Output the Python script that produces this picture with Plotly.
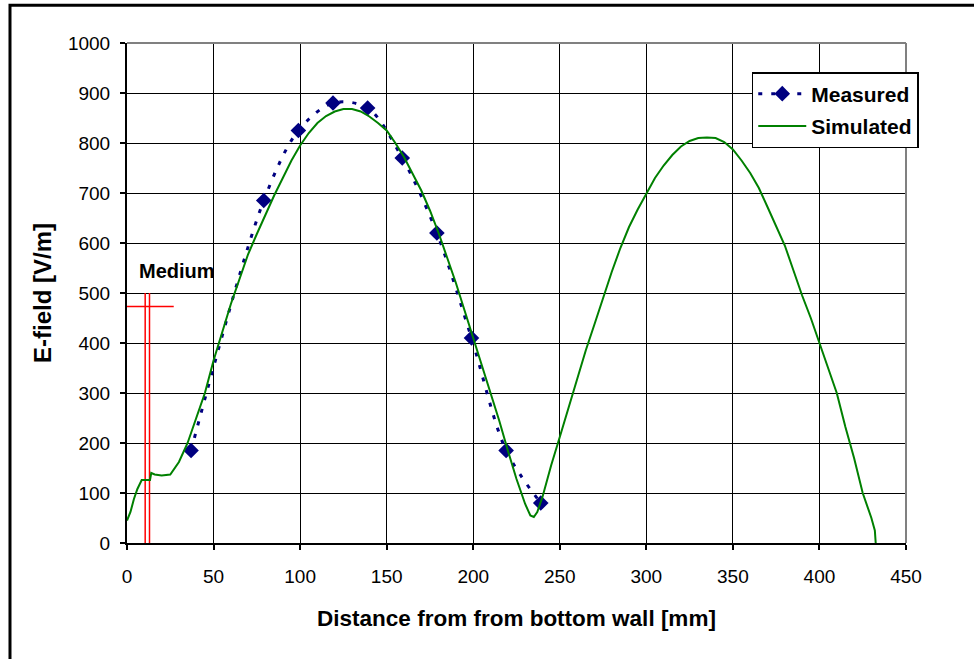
import plotly.graph_objects as go

# Measured data (diamonds, dotted smoothed line)
meas_x = [37, 79, 99, 119, 139, 159, 179, 199, 219, 239]
meas_y = [185, 685, 825, 880, 870, 770, 620, 410, 185, 80]

# Simulated data (green line)
sim_x = [0, 2, 4, 6, 8.5, 10, 12, 13.3, 14, 16, 20, 25, 30, 35, 40, 45, 50, 55, 60, 65,
         70, 75, 80, 85, 90, 95, 100, 105, 110, 115, 120, 125, 130, 135, 140, 145,
         150, 155, 160, 165, 170, 175, 180, 185, 190, 195, 200, 205, 210, 215, 220,
         225, 230, 233, 235, 237, 240, 245, 250, 255, 260, 265, 270, 275, 280, 285,
         290, 295, 300, 305, 310, 315, 320, 325, 330, 335, 340, 345, 350, 355, 360,
         365, 370, 375, 380, 385, 390, 395, 400, 405, 410, 415, 420, 425, 428, 430,
         432, 432.5]
sim_y = [45, 62, 88, 108, 126, 126, 126, 126, 140, 137, 135, 137, 162, 200, 250, 300, 365, 420, 478, 528,
         578, 618, 658, 695, 730, 765, 795, 820, 840, 854, 863, 868, 868, 863, 853, 840,
         825, 800, 772, 740, 705, 665, 620, 570, 520, 465, 410, 355, 300, 245, 185,
         128, 78, 55, 52, 62, 92, 155, 212, 270, 330, 385, 437, 490, 542, 590,
         632, 667, 700, 730, 755, 776, 793, 804, 810, 811, 810, 802, 787, 765, 740,
         710, 672, 635, 595, 545, 495, 450, 400, 350, 300, 232, 170, 100, 70, 50,
         25, 0]

# "Medium" marker lines
medium_vx = [10.5, 13]
medium_top = 500
medium_hx = [0, 27]
medium_hy = 473
medium_label = "Medium"

x_ticks = list(range(0, 451, 50))
y_ticks = list(range(0, 1001, 100))

FONT = "Liberation Sans, Arial, sans-serif"

fig = go.Figure()

# Medium red lines
for vx in medium_vx:
    fig.add_trace(go.Scatter(x=[vx, vx], y=[0, medium_top], mode="lines",
                             line=dict(color="#FF0000", width=1.5),
                             showlegend=False, hoverinfo="skip"))
fig.add_trace(go.Scatter(x=medium_hx, y=[medium_hy, medium_hy], mode="lines",
                         line=dict(color="#FF0000", width=1.5),
                         showlegend=False, hoverinfo="skip"))

fig.add_trace(go.Scatter(x=meas_x, y=meas_y, mode="lines+markers", name="<b>Measured</b>",
                         line=dict(color="#000080", width=3, dash="4px,9px",
                                   shape="spline", smoothing=0.9),
                         marker=dict(symbol="diamond", size=12, color="#000080"),
                         legendgroup="a"))
fig.add_trace(go.Scatter(x=sim_x, y=sim_y, mode="lines", name="<b>Simulated</b>",
                         line=dict(color="#008000", width=2),
                         legendgroup="b"))

fig.add_annotation(x=5.8, y=544, text="<b>" + medium_label + "</b>", showarrow=False,
                   xanchor="left", yanchor="middle",
                   font=dict(family=FONT, size=20, color="black"))

fig.update_xaxes(range=[0, 450], tickvals=x_ticks, showgrid=True, gridcolor="black",
                 gridwidth=1, zeroline=False, showline=True, linecolor="black", linewidth=2,
                 ticks="outside", ticklen=5, tickcolor="black", tickwidth=1.5,
                 ticklabelstandoff=10,
                 tickfont=dict(family=FONT, size=19, color="black"),
                 title=dict(text="<b>Distance from from bottom wall [mm]</b>",
                            font=dict(family=FONT, size=22.5, color="black"), standoff=24))
fig.update_yaxes(range=[0, 1000], tickvals=y_ticks, showgrid=True, gridcolor="black",
                 gridwidth=1, zeroline=False, showline=True, linecolor="black", linewidth=2,
                 ticks="outside", ticklen=5, tickcolor="black", tickwidth=1.5,
                 ticklabelstandoff=6,
                 tickfont=dict(family=FONT, size=19, color="black"),
                 title=dict(text="<b>E-field [V/m]</b>",
                            font=dict(family=FONT, size=24, color="black"), standoff=10))

# Plot area border (gray) on top and right
fig.add_shape(type="line", xref="paper", yref="paper", x0=0, x1=1, y0=1, y1=1,
              line=dict(color="#808080", width=2), layer="above")
fig.add_shape(type="line", xref="paper", yref="paper", x0=1, x1=1, y0=0, y1=1,
              line=dict(color="#808080", width=2), layer="above")
# Outer chart frame
fig.add_shape(type="rect", xref="paper", yref="paper", x0=-0.1502, x1=1.2, y0=-0.4, y1=1.0755,
              line=dict(color="black", width=3), layer="above")

fig.update_layout(
    width=974, height=659,
    margin=dict(l=127, r=68, t=43, b=116),
    paper_bgcolor="white", plot_bgcolor="white",
    font=dict(family=FONT, color="black"),
    legend=dict(x=0.802, y=0.942, xanchor="left", yanchor="top",
                bgcolor="white", bordercolor="black", borderwidth=1.5,
                font=dict(family=FONT, size=21, color="black"),
                traceorder="grouped", tracegroupgap=2, itemwidth=48),
)

fig.write_html("out.html")
